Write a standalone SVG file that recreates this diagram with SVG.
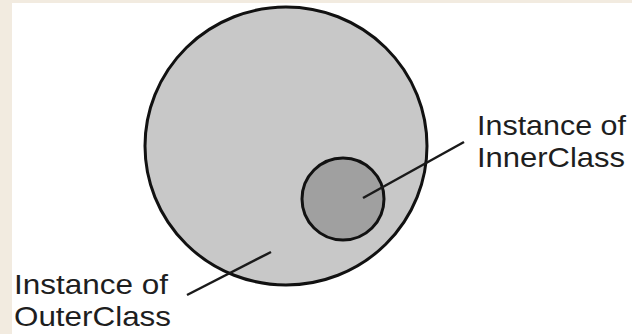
<svg xmlns="http://www.w3.org/2000/svg" width="632" height="334" viewBox="0 0 632 334">
<style>
.lbl{font-family:"Liberation Sans",Arial,sans-serif;font-size:27.5px;fill:#1e1e1e}
.ln{stroke:#1a1a1a;stroke-width:2.5;fill:none}
</style>
<rect x="0" y="0" width="632" height="334" fill="#f2ebe0"/>
<rect x="12" y="3" width="620" height="331" fill="#ffffff"/>
<g id="outer">
<ellipse cx="286" cy="146" rx="141" ry="139" fill="#c8c8c8" stroke="#111" stroke-width="3"/>
</g>
<g id="inner">
<circle cx="343" cy="199" r="41" fill="#a0a0a0" stroke="#111" stroke-width="3"/>
</g>
<g id="connectors">
<line class="ln" x1="363" y1="198" x2="464" y2="142"/>
<line class="ln" x1="187" y1="295" x2="271" y2="252"/>
</g>
<g id="label-inner">
<text class="lbl" x="477" y="135" textLength="149" lengthAdjust="spacingAndGlyphs">Instance of</text>
<text class="lbl" x="477" y="167" textLength="148" lengthAdjust="spacingAndGlyphs">InnerClass</text>
</g>
<g id="label-outer">
<text class="lbl" x="14" y="294" textLength="154" lengthAdjust="spacingAndGlyphs">Instance of</text>
<text class="lbl" x="14" y="326" textLength="157" lengthAdjust="spacingAndGlyphs">OuterClass</text>
</g>
</svg>
